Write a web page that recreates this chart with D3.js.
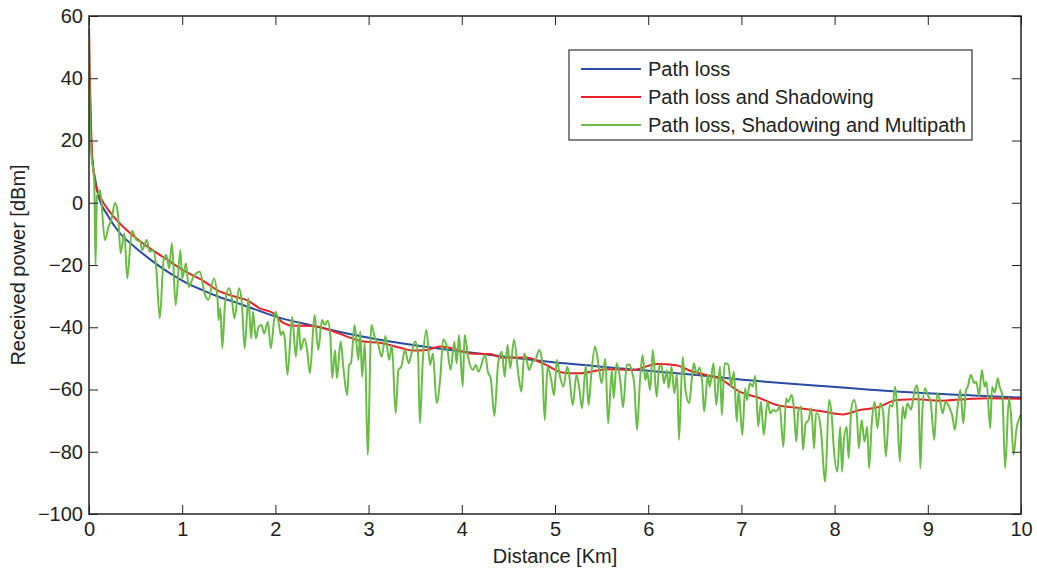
<!DOCTYPE html>
<html>
<head>
<meta charset="utf-8">
<script src="https://cdn.jsdelivr.net/npm/d3@7"></script>
<style>
  body { margin: 0; background: #fff; }
  svg { font-family: "Liberation Sans", Arial, sans-serif; }
</style>
</head>
<body>
<div class="chart"></div>
<script>
// path loss only (distance km, dBm)
const pathLoss = [
  [0.005, 40], [0.02, 22], [0.04, 13], [0.064, 8], [0.1, 2.5], [0.2, -4], [0.31, -9],
  [0.49, -14.2], [0.67, -18.5], [0.85, -22.3], [1.03, -25.5], [1.21, -28], [1.39, -30.2],
  [1.57, -32], [1.71, -33.5], [2.05, -37], [2.4, -39.5], [2.77, -42], [3.12, -44],
  [3.5, -45.8], [4.02, -47.9], [4.5, -49.6], [4.91, -51], [5.4, -52.4], [5.8, -53.5],
  [6.2, -54.5], [6.55, -55.4], [7.14, -57.2], [7.5, -58.1], [7.98, -59.1], [8.35, -60],
  [8.7, -60.7], [9.05, -61.3], [9.41, -61.8], [10, -62.6]
];

// path loss + shadowing
const shadowing = [
  [0, 56], [0.01, 40], [0.02, 27], [0.035, 14], [0.08, 4.5], [0.136, 1], [0.31, -6],
  [0.49, -11], [0.67, -15], [0.85, -18.5], [1.03, -22], [1.21, -24.8], [1.39, -28.3],
  [1.57, -30.2], [1.71, -31.5], [1.83, -33.9], [1.98, -35.5], [2.08, -38.5], [2.19, -39.5],
  [2.4, -39.6], [2.58, -40.9], [2.77, -43], [2.94, -44.6], [3.12, -45], [3.34, -46.6],
  [3.48, -47.5], [3.62, -47.3], [3.77, -46.2], [3.94, -47.1], [4.09, -48.4], [4.3, -48.6],
  [4.44, -49.8], [4.69, -49.7], [4.87, -51.6], [5.09, -54.6], [5.27, -54.8], [5.55, -53.5],
  [5.84, -53.7], [6.09, -51.8], [6.3, -52.2], [6.48, -54.3], [6.62, -55.3], [6.77, -56.6],
  [6.98, -60.7], [7.2, -62.8], [7.38, -65], [7.63, -66], [7.88, -67.1], [8.09, -68],
  [8.27, -66.6], [8.45, -65.8], [8.67, -63.4], [8.88, -63.1], [9.13, -63.6], [9.41, -63.1],
  [9.66, -62.8], [10, -63]
];

// path loss + shadowing + multipath
const multipath = [
  [0, 53.4], [0.01, 27], [0.03, 14], [0.055, 9], [0.07, -20], [0.085, 2], [0.1, 3],
  [0.118, 4.1], [0.17, -12], [0.21, -7.7], [0.24, -5.5], [0.28, 0], [0.31, -3.4],
  [0.34, -16.2], [0.38, -9.8], [0.41, -24.3], [0.46, -9], [0.51, -12], [0.55, -12.5],
  [0.57, -15.2], [0.62, -12], [0.65, -15.7], [0.69, -15.2], [0.72, -20.5], [0.76, -37.1],
  [0.8, -18.4], [0.83, -16.8], [0.86, -21.1], [0.89, -13], [0.93, -32.9], [0.98, -15.2],
  [1, -24.3], [1.04, -19.5], [1.07, -27], [1.12, -23.8], [1.19, -22.2], [1.24, -29.1],
  [1.28, -31.2], [1.34, -24.3], [1.38, -31.2], [1.39, -37.7], [1.41, -33.9], [1.43, -46.8],
  [1.46, -32.3], [1.5, -27.5], [1.53, -30.2], [1.56, -37.1], [1.61, -27.5], [1.64, -32.3],
  [1.67, -46.8], [1.71, -30.7], [1.74, -43.6], [1.76, -35], [1.79, -43.6], [1.82, -39.8],
  [1.85, -39.3], [1.88, -42], [1.92, -38.2], [1.95, -46.8], [2, -35], [2.03, -37.7],
  [2.06, -42.5], [2.08, -41.4], [2.1, -43.6], [2.13, -55.3], [2.18, -36.6], [2.22, -49.5],
  [2.25, -38.2], [2.27, -47.3], [2.31, -43.6], [2.34, -47.3], [2.37, -54.8], [2.42, -36.1],
  [2.46, -47.3], [2.5, -37.7], [2.53, -39.3], [2.56, -37.9], [2.59, -43], [2.61, -56.4],
  [2.64, -47.3], [2.66, -56.4], [2.7, -44.6], [2.73, -53.2], [2.77, -61.8], [2.79, -52.1],
  [2.81, -51.6], [2.85, -39.3], [2.89, -50.5], [2.91, -41.4], [2.93, -55.9], [2.96, -45],
  [2.99, -81], [3.03, -39.3], [3.07, -43.6], [3.1, -45.2], [3.14, -49.5], [3.18, -42.8],
  [3.22, -50.5], [3.25, -45.7], [3.29, -67.7], [3.32, -53.7], [3.35, -52.7], [3.39, -47.3],
  [3.43, -51.6], [3.46, -48.4], [3.5, -44.6], [3.53, -48.4], [3.55, -70.9], [3.58, -51.6],
  [3.62, -40.9], [3.66, -52.1], [3.69, -48.4], [3.73, -64.4], [3.77, -55.9], [3.8, -43.9],
  [3.84, -46.2], [3.88, -53.7], [3.92, -44.6], [3.945, -51.6], [3.97, -42.5], [4.01, -59.1],
  [4.03, -42.5], [4.07, -50], [4.12, -53.7], [4.15, -52.1], [4.18, -54.3], [4.25, -48.9],
  [4.28, -54.3], [4.31, -56.4], [4.35, -68.5], [4.39, -51.6], [4.43, -47.9], [4.46, -55.9],
  [4.49, -45.7], [4.52, -53.2], [4.56, -43.9], [4.61, -55.9], [4.64, -60.7], [4.67, -48.4],
  [4.7, -51.1], [4.72, -53.7], [4.76, -51], [4.79, -50.5], [4.83, -47.3], [4.86, -50.5],
  [4.89, -69.8], [4.92, -52.7], [4.96, -57], [4.99, -61.8], [5.02, -50.5], [5.05, -55.3],
  [5.09, -59.1], [5.13, -52.7], [5.15, -54.8], [5.19, -65], [5.23, -55.3], [5.26, -59.6],
  [5.29, -66], [5.33, -52.1], [5.36, -65], [5.39, -54.8], [5.43, -46.2], [5.47, -52.7],
  [5.5, -58], [5.54, -50], [5.57, -70.9], [5.61, -53.7], [5.63, -62.8], [5.66, -51.6],
  [5.7, -57], [5.73, -65.7], [5.77, -52.1], [5.8, -52], [5.82, -53.7], [5.85, -58],
  [5.88, -73], [5.91, -58], [5.94, -48.9], [5.97, -57], [5.99, -54.3], [6.02, -60.2],
  [6.05, -47.3], [6.09, -62.3], [6.12, -52.7], [6.14, -52.1], [6.17, -58], [6.2, -53.7],
  [6.22, -59.6], [6.25, -52.7], [6.28, -61.2], [6.31, -55], [6.33, -76.2], [6.37, -49.5],
  [6.4, -60.2], [6.44, -64.4], [6.47, -55.9], [6.49, -51.6], [6.52, -55], [6.55, -53],
  [6.58, -58], [6.6, -67.1], [6.64, -55.3], [6.66, -59.1], [6.7, -51.6], [6.73, -65],
  [6.77, -52.7], [6.79, -68.2], [6.82, -51.6], [6.86, -52], [6.89, -59.1], [6.92, -54.3],
  [6.95, -70.3], [6.97, -60.2], [7.01, -74.6], [7.04, -59.6], [7.06, -63.4], [7.09, -58],
  [7.12, -59], [7.15, -55.7], [7.18, -71.9], [7.21, -63.9], [7.24, -74.6], [7.28, -63.9],
  [7.31, -67.7], [7.34, -66.5], [7.37, -67], [7.4, -66], [7.41, -65], [7.45, -78.4],
  [7.48, -62.8], [7.5, -64], [7.54, -61.8], [7.56, -65], [7.59, -76.8], [7.61, -67.1],
  [7.64, -65.5], [7.66, -79.4], [7.69, -70.9], [7.72, -69.8], [7.75, -66], [7.78, -78.9],
  [7.8, -67.7], [7.82, -67.7], [7.85, -72], [7.9, -89.6], [7.94, -63.4], [7.97, -68.7],
  [7.99, -78.4], [8.03, -86.4], [8.06, -72], [8.08, -86.4], [8.1, -76.2], [8.13, -72],
  [8.15, -82.1], [8.18, -66], [8.21, -63.4], [8.24, -68.7], [8.26, -78.9], [8.29, -69.8],
  [8.32, -76.8], [8.35, -72], [8.37, -85.3], [8.4, -70.3], [8.43, -63.9], [8.46, -72.5],
  [8.49, -64.4], [8.52, -67], [8.55, -81.5], [8.59, -65], [8.62, -65.5], [8.65, -59.1],
  [8.67, -65.5], [8.7, -83.2], [8.73, -65.5], [8.755, -69.3], [8.78, -64.4], [8.82, -66.5],
  [8.85, -61.8], [8.88, -58.6], [8.9, -62], [8.92, -85.3], [8.94, -68], [8.97, -59.6],
  [9, -61.8], [9.03, -64], [9.07, -76.2], [9.1, -61.2], [9.13, -63.5], [9.16, -67.7],
  [9.19, -64], [9.22, -65], [9.24, -66.5], [9.26, -68], [9.29, -73], [9.32, -65.5],
  [9.35, -60.2], [9.38, -70.9], [9.41, -60.2], [9.43, -59], [9.46, -55.3], [9.5, -58],
  [9.52, -57.5], [9.55, -62], [9.58, -53.7], [9.61, -59.1], [9.63, -57.5], [9.67, -72.5],
  [9.69, -59.1], [9.72, -61], [9.75, -56.4], [9.77, -59], [9.8, -62], [9.83, -85.3],
  [9.87, -62.8], [9.89, -67], [9.92, -81], [9.95, -73], [10, -68]
];

const xTicks = [0, 1, 2, 3, 4, 5, 6, 7, 8, 9, 10];
const yTicks = [-100, -80, -60, -40, -20, 0, 20, 40, 60];
const seriesNames = ["Path loss", "Path loss and Shadowing", "Path loss, Shadowing and Multipath"];
const seriesColors = ["#2b4aa3", "#ea2128", "#69bd45"];

const width = 1037;
const height = 568;
const margin = { top: 16, right: 16, bottom: 54, left: 89 };
const plotW = width - margin.left - margin.right;
const plotH = height - margin.top - margin.bottom;

const svg = d3
  .select(".chart")
  .append("svg")
  .attr("width", width)
  .attr("height", height);

const x = d3.scaleLinear().domain([0, 10]).range([0, plotW]);
const y = d3.scaleLinear().domain([-100, 60]).range([plotH, 0]);

const g = svg.append("g").attr("transform", `translate(${margin.left},${margin.top})`);

g.append("clipPath")
  .attr("id", "clip")
  .append("rect")
  .attr("width", plotW)
  .attr("height", plotH);

const line = d3
  .line()
  .x(d => x(d[0]))
  .y(d => y(d[1]))
  .curve(d3.curveMonotoneX);

const lines = g.append("g").attr("clip-path", "url(#clip)");
[pathLoss, shadowing, multipath].forEach((s, i) => {
  lines
    .append("path")
    .datum(s)
    .attr("fill", "none")
    .attr("stroke", seriesColors[i])
    .attr("stroke-width", 2)
    .attr("stroke-linejoin", "round")
    .attr("d", line);
});

// axes, ticks pointing inward like matlab
const fontSize = "20px";
const styleAxis = sel => {
  sel.select(".domain").remove();
  sel.selectAll("line").attr("stroke", "#222");
  sel.selectAll("text").attr("fill", "#222").style("font-size", fontSize);
};

g.append("g")
  .attr("transform", `translate(0,${plotH})`)
  .call(d3.axisBottom(x).tickValues(xTicks).tickSizeInner(-9).tickSizeOuter(0).tickPadding(8).tickFormat(d3.format("d")))
  .call(styleAxis);

g.append("g")
  .call(d3.axisLeft(y).tickValues(yTicks).tickSizeInner(-9).tickSizeOuter(0).tickPadding(6))
  .call(styleAxis);

g.append("g")
  .call(d3.axisTop(x).tickValues(xTicks).tickSizeInner(-9).tickSizeOuter(0).tickFormat(""))
  .call(styleAxis);

g.append("g")
  .attr("transform", `translate(${plotW},0)`)
  .call(d3.axisRight(y).tickValues(yTicks).tickSizeInner(-9).tickSizeOuter(0).tickFormat(""))
  .call(styleAxis);

g.append("rect")
  .attr("width", plotW)
  .attr("height", plotH)
  .attr("fill", "none")
  .attr("stroke", "#222")
  .attr("stroke-width", 1.5);

// axis titles
svg.append("text")
  .attr("x", margin.left + plotW / 2)
  .attr("y", 563)
  .attr("text-anchor", "middle")
  .attr("fill", "#222")
  .style("font-size", fontSize)
  .text("Distance [Km]");

svg.append("text")
  .attr("transform", `translate(25,${margin.top + plotH / 2}) rotate(-90)`)
  .attr("text-anchor", "middle")
  .attr("fill", "#222")
  .style("font-size", fontSize)
  .text("Received power [dBm]");

// legend
const legend = svg.append("g").attr("transform", "translate(569,50)");
legend.append("rect")
  .attr("width", 403)
  .attr("height", 90)
  .attr("fill", "#fff")
  .attr("stroke", "#333")
  .attr("stroke-width", 1.2);

seriesNames.forEach((name, i) => {
  const row = legend.append("g").attr("transform", `translate(0,${19 + i * 28})`);
  row.append("line")
    .attr("x1", 12)
    .attr("x2", 72)
    .attr("stroke", seriesColors[i])
    .attr("stroke-width", 2);
  row.append("text")
    .attr("x", 79)
    .attr("dy", "0.35em")
    .attr("fill", "#222")
    .style("font-size", fontSize)
    .text(name);
});
</script>
</body>
</html>
